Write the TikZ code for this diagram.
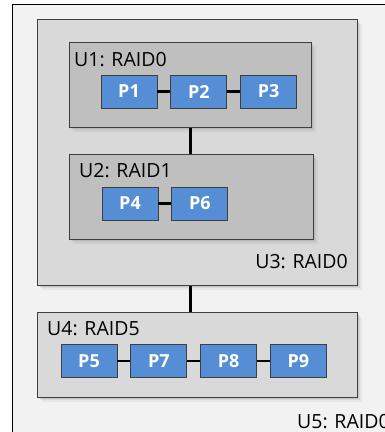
\documentclass[tikz,border=0pt]{standalone}
\usepackage{fontspec}
\setmainfont{Open Sans}
\usetikzlibrary{positioning, shadows, calc}
\definecolor{outerfill}{HTML}{F2F2F2}
\definecolor{midfill}{HTML}{D9D9D9}
\definecolor{innerfill}{HTML}{BFBFBF}
\definecolor{diskfill}{HTML}{558ED5}
\definecolor{edgegray}{HTML}{3F3F3F}
\tikzset{
  unit_box/.style = {draw=edgegray, line width=0.9pt, anchor=north west,
    inner sep=0pt},
  soft_shadow/.style = {drop shadow={shadow xshift=4.5pt, shadow yshift=-4.5pt, opacity=.1},
    drop shadow={shadow xshift=3pt, shadow yshift=-3pt, opacity=.15},
    drop shadow={shadow xshift=1.5pt, shadow yshift=-1.5pt, opacity=.15}},
  unit_o/.style = {unit_box, fill=outerfill, draw=black},% raid set, outer
  unit_m/.style = {unit_box, fill=midfill, soft_shadow},% raid set, middle
  unit_i/.style = {unit_box, fill=innerfill, soft_shadow},% raid set, inner
  disk_p/.style = {draw=edgegray, line width=0.8pt, fill=diskfill, text=white,
    minimum width=56pt, minimum height=33pt, inner sep=0pt,
    font=\fontsize{18}{22}\selectfont\bfseries},% physical disk
  unit_lbl/.style = {inner sep=0pt, font=\fontsize{19.5}{23}\selectfont},
  link/.style = {draw=black, line width=2.8pt}
}
\begin{document}
\begin{tikzpicture}[x=1pt, y=-1pt]
\useasboundingbox (0,0) rectangle (385,432);
\clip (0,0) rectangle (385,432);
% units
\node [unit_o, minimum width=420pt, minimum height=460pt] (u5) at (12,4) {};
\node [unit_m, minimum width=320pt, minimum height=266pt] (u3) at (37,19) {};
\node [unit_i, minimum width=242pt, minimum height=85pt] (u1) at (69,42) {};
\node [unit_i, minimum width=244pt, minimum height=85pt] (u2) at (69,154) {};
\node [unit_m, minimum width=320pt, minimum height=85pt] (u4) at (37,312) {};
% labels
\node [unit_lbl, anchor=base west] (l1) at (74,66.5) {U1: RAID0};
\node [unit_lbl, anchor=base west] (l2) at (79,177) {U2: RAID1};
\node [unit_lbl, anchor=base east] (l3) at (348,268) {U3: RAID0};
\node [unit_lbl, anchor=base west] (l4) at (47,335) {U4: RAID5};
\node [unit_lbl, anchor=base west] (l5) at (297,428) {U5: RAID0};
% disks
\node [disk_p] (p1) at (129,91.5) {P1};
\node [disk_p, right=13pt of p1] (p2) {P2};
\node [disk_p, right=13pt of p2] (p3) {P3};
\node [disk_p] (p4) at (130,203.5) {P4};
\node [disk_p, right=13pt of p4] (p6) {P6};
\node [disk_p] (p5) at (89,361) {P5};
\node [disk_p, right=13pt of p5] (p7) {P7};
\node [disk_p, right=13pt of p7] (p8) {P8};
\node [disk_p, right=13pt of p8] (p9) {P9};
% links
\draw [link] (p1) -- (p2);
\draw [link] (p2) -- (p3);
\draw [link] (p4) -- (p6);
\draw [link] (p5) -- (p7);
\draw [link] (p7) -- (p8);
\draw [link] (p8) -- (p9);
\draw [link] (u1.south) -- (u1.south |- u2.north);
\draw [link] (u1.south |- u3.south) -- (u1.south |- u4.north);
\end{tikzpicture}
\end{document}
